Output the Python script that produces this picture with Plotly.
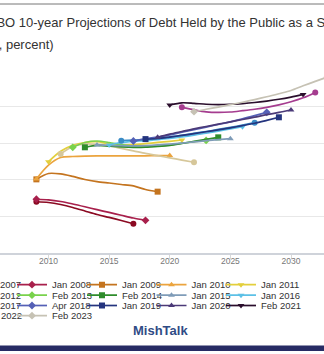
import plotly.graph_objects as go

# ---------------- data ----------------
series_names = ["Jan 2007", "Jan 2008", "Jan 2009", "Jan 2010", "Jan 2011",
                "Jan 2012", "Feb 2013", "Feb 2014", "Jan 2015", "Jan 2016",
                "Jan 2017", "Apr 2018", "Jan 2019", "Jan 2020", "Feb 2021",
                "Mar 2022", "Feb 2023"]
start_years = [2009, 2009, 2009, 2009, 2010, 2011, 2012, 2013, 2014, 2015,
               2016, 2017, 2018, 2019, 2020, 2021, 2022]

jan2007 = [35.0, 34.5, 33.1, 31.1, 28.7, 26.3, 24.3, 22.2, 20.0]
jan2008 = [36.7, 36.3, 35.2, 33.5, 31.6, 29.6, 27.7, 25.8, 23.9, 22.3]
jan2009 = [50.3, 54.3, 54.0, 52.3, 50.2, 48.8, 47.8, 46.8, 45.8, 43.4, 41.9]
jan2010 = [50.6, 60.0, 65.2, 65.9, 66.2, 66.3, 66.3, 66.3, 66.4, 66.4, 66.5, 66.6]
jan2011 = [62.4, 69.5, 73.5, 75.5, 76.0, 74.5, 73.8, 74.0, 74.7, 75.5, 76.3, 77.2]
jan2012 = [67.7, 72.8, 74.5, 74.2, 73.2, 71.5, 69.8, 68.0, 66.5, 65.0, 63.5, 62.0]
feb2013 = [72.2, 75.5, 76.5, 75.5, 74.0, 73.0, 72.8, 73.0, 73.8, 75.0, 76.0, 76.9]
feb2014 = [72.2, 73.5, 73.0, 72.5, 72.2, 72.3, 72.8, 73.5, 74.8, 76.2, 77.6, 79.0]
jan2015 = [73.8, 73.5, 73.3, 73.2, 73.4, 73.8, 74.4, 75.1, 75.9, 76.7, 77.4, 78.1]
jan2016 = [73.8, 75.5, 76.3, 76.8, 77.5, 78.3, 79.3, 80.5, 81.8, 83.3, 84.8, 86.3]
jan2017 = [76.7, 77.2, 77.6, 78.3, 79.3, 80.4, 81.7, 83.0, 84.4, 85.8, 87.4, 89.0]
apr2018 = [76.5, 78.0, 79.2, 80.7, 82.5, 84.2, 86.0, 87.8, 89.6, 91.6, 93.8, 96.1]
jan2019 = [77.8, 78.2, 79.2, 80.3, 81.5, 82.8, 84.1, 85.5, 87.0, 88.6, 90.6, 92.7]
jan2020 = [79.1, 81.2, 83.0, 84.8, 86.4, 88.0, 89.6, 91.2, 92.8, 94.5, 96.0, 97.7]
feb2021 = [101.1, 102.6, 102.2, 101.6, 101.4, 101.6, 102.1, 102.8, 103.8, 105.0, 106.5, 108.3]
mar2022 = [99.5, 97.8, 96.4, 96.0, 96.3, 97.2, 98.2, 99.5, 101.2, 103.3, 106.0, 109.7]
feb2023 = [96.5, 98.2, 99.7, 101.3, 103.0, 104.8, 106.7, 108.8, 111.0, 114.2, 117.2, 120.2]

series_values = [jan2007, jan2008, jan2009, jan2010, jan2011, jan2012, feb2013,
                 feb2014, jan2015, jan2016, jan2017, apr2018, jan2019, jan2020,
                 feb2021, mar2022, feb2023]

x_tick_vals = [2010, 2015, 2020, 2025, 2030]
y_grid_vals = [0, 25, 50, 75, 100, 125]

# ---------------- style ----------------
colors = ["#8b0a22", "#a8204c", "#c4741f", "#eba43e", "#e3cf3c",
          "#d6c79a", "#79d24c", "#2f8c2c", "#7f9cb8", "#5cc0e6",
          "#3a8cc6", "#5560b6", "#24347e", "#4b3a78", "#2a0e2c",
          "#a53c8f", "#c6c2b4"]
symbols = ["circle", "diamond", "square", "triangle-up", "triangle-down"] * 4

W, H = 324, 354
PT, PB = 70, 253          # plot area top / bottom in px
PH = PB - PT

def py(px):               # pixel y -> paper y
    return (PB - px) / PH

def pxx(px):              # pixel x -> paper x
    return px / W

legend_font = dict(family="Liberation Sans, Arial, sans-serif", size=9.5, color="#333333")
col_text_x = [-18, 52, 122, 191.5, 261]
row_text_y = [285, 295.5, 305.8, 316]

fig = go.Figure()
legends = {}
for i, (name, y0, vals) in enumerate(zip(series_names, start_years, series_values)):
    key = "legend" if i == 0 else f"legend{i + 1}"
    r, c = divmod(i, 5)
    legends[key] = dict(
        orientation="v", xref="paper", yref="paper",
        x=pxx(col_text_x[c] - 40), xanchor="left",
        y=py(row_text_y[r] - 14.8), yanchor="top",
        bgcolor="rgba(0,0,0,0)", borderwidth=0, font=legend_font,
    )
    xs = [y0 + k for k in range(len(vals))]
    mcol = [colors[i] if (k == 0 or k == len(vals) - 1) else "rgba(0,0,0,0)" for k in range(len(vals))]
    fig.add_trace(go.Scatter(
        x=xs, y=vals, name=name, mode="lines+markers",
        line=dict(color=colors[i], width=1.7, shape="spline", smoothing=0.8),
        marker=dict(symbol=symbols[i], size=6, color=mcol, line=dict(width=0)),
        legend=key, hoverinfo="skip",
    ))

fig.update_layout(
    width=W, height=H,
    margin=dict(l=0, r=0, t=PT, b=H - PB, pad=0, autoexpand=False),
    paper_bgcolor="white", plot_bgcolor="white",
    showlegend=True,
    xaxis=dict(range=[2010 - 48.5 / 12.125, 2010 + (W - 48.5) / 12.125],
               tickvals=x_tick_vals, showgrid=False, zeroline=False,
               showline=True, linecolor="#cfd3da", linewidth=2,
               ticks="outside", ticklen=4, tickcolor="#d8d8d8", tickwidth=1,
               ticklabelstandoff=-5,
               tickfont=dict(family="Liberation Sans, Arial, sans-serif", size=8.5, color="#777777")),
    yaxis=dict(range=[0, 125], tickvals=y_grid_vals, showticklabels=False,
               showgrid=True, gridcolor="#e8e8e8", gridwidth=1, zeroline=False, showline=False),
    **legends,
)

title_font = dict(family="Liberation Sans, Arial, sans-serif", size=13, color="#333333")
fig.add_annotation(text="CBO 10-year Projections of Debt Held by the Public as a Share of GDP",
                   xref="paper", yref="paper", x=pxx(-15), y=py(23), xanchor="left", yanchor="middle",
                   showarrow=False, font=title_font)
fig.add_annotation(text="(Fiscal years, percent)",
                   xref="paper", yref="paper", x=pxx(-77), y=py(44), xanchor="left", yanchor="middle",
                   showarrow=False, font=title_font)
fig.add_annotation(text="<b>MishTalk</b>", xref="paper", yref="paper", x=pxx(160), y=py(330),
                   xanchor="center", yanchor="middle", showarrow=False,
                   font=dict(family="Liberation Sans, Arial, sans-serif", size=13, color="#2f4b85"))

fig.add_shape(type="line", xref="paper", yref="paper", x0=0, x1=1, y0=py(4), y1=py(4),
              line=dict(color="#777777", width=1))
fig.add_shape(type="rect", xref="paper", yref="paper", x0=0, x1=1, y0=py(351), y1=py(345.5),
              line=dict(width=0), fillcolor="#272b64")

fig.write_html("out.html")
